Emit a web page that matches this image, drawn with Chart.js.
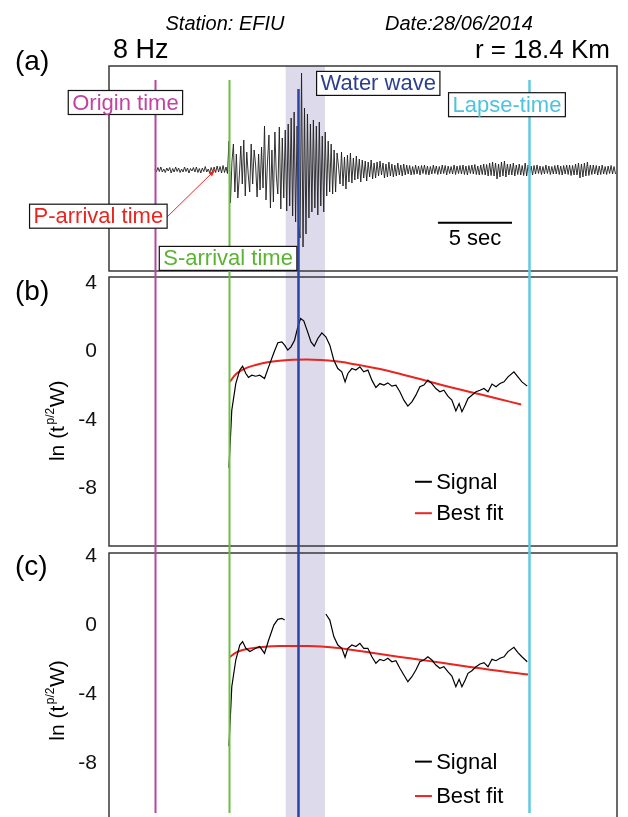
<!DOCTYPE html>
<html><head><meta charset="utf-8">
<script src="https://cdn.jsdelivr.net/npm/chart.js@4"></script>
<style>html,body{margin:0;padding:0;background:#fff;}#wrap{width:628px;height:817px;position:relative;}</style>
</head><body><div id="wrap"><canvas id="c" width="628" height="817"></canvas></div>
<script>
// ---------------- DATA ----------------
const stationText = 'Station: EFIU';
const dateText = 'Date:28/06/2014';
const freqText = '8 Hz';
const distText = 'r = 18.4 Km';
const panelLetters = ['(a)', '(b)', '(c)'];
const yTicks = [4, 0, -4, -8];
const scaleBarSeconds = 5;

// event times (s after origin time)
const eventNames = ['Origin time', 'P-arrival time', 'S-arrival time', 'Water wave', 'Lapse-time'];
const eventTimes = [0, 4.06, 5.02, 9.66, 25.26];
const waterBand = [8.83, 11.48];

// panel (a): seismogram, sampled every 0.1 s from origin time
const waveStart = 0;
const waveStep = 0.1;
const waveform = [
 0.1,-0.2,0.25,-0.15,0.3,-0.2,0.1,-0.25,0.2,-0.1,
 0.25,-0.3,0.15,-0.2,0.3,-0.15,0.2,-0.25,0.1,-0.2,
 0.3,-0.15,0.2,-0.3,0.15,-0.1,0.25,-0.2,0.3,-0.25,
 0.15,-0.3,0.2,-0.15,0.35,-0.2,0.1,-0.3,0.25,-0.2,
 0.3,-0.25,0.4,-0.2,0.35,-0.3,0.45,-0.25,0.3,-0.35,
 2.9,-3.3,0.8,2.6,-2.2,1.6,-2.8,-0.6,2.4,-1.4,
 3.0,-2.6,1.8,-0.4,-2.2,2.6,-1.4,2.0,0.5,-2.7,
 1.6,-2.0,2.3,-1.8,4.4,-3.0,0.8,3.5,-3.8,2.0,
 -3.2,3.8,-0.6,-2.4,4.3,-3.9,3.2,-2.8,4.0,-4.1,
 4.6,-3.6,5.2,-4.6,5.8,-5.2,4.4,-5.6,-6.8,9.7,
 -7.7,6.2,-6.4,5.6,-4.8,4.6,-4.2,5.0,-3.8,4.4,
 -4.5,4.8,-3.6,3.4,-4.2,3.8,-2.6,2.9,-2.2,2.6,
 -2.4,2.0,-2.2,1.7,0.3,-1.4,1.8,-1.6,1.3,-1.9,
 1.5,-1.2,1.7,-1.3,1.2,-1.0,1.4,-0.9,1.1,-1.2,
 1.0,-0.8,0.9,-1.1,0.8,-0.7,1.0,-0.9,0.7,-0.8,
 0.8,-0.6,0.9,-0.5,0.7,-0.8,0.6,-0.7,0.8,-0.6,
 0.6,-0.7,0.5,-0.6,0.7,-0.5,0.5,-0.6,0.6,-0.5,
 0.5,-0.4,0.45,-0.5,0.35,-0.45,0.5,-0.4,0.4,-0.5,
 0.45,-0.35,0.5,-0.45,0.4,-0.5,0.35,-0.4,0.5,-0.35,
 0.4,-0.45,0.35,-0.4,0.5,-0.35,0.45,-0.5,0.4,-0.35,
 0.35,-0.4,0.5,-0.45,0.4,-0.35,0.45,-0.4,0.5,-0.45,
 0.4,-0.5,0.45,-0.35,0.5,-0.4,0.55,-0.45,0.4,-0.5,
 0.5,-0.45,0.6,-0.5,0.55,-0.6,0.7,-0.55,0.8,-0.6,
 0.7,-0.9,0.6,-0.7,0.8,-0.6,0.9,-0.7,0.6,-0.5,
 0.6,-0.5,0.7,-0.6,0.5,-0.45,0.6,-0.5,0.45,-0.55,
 0.7,-0.6,0.5,-0.45,0.4,-0.5,0.45,-0.4,0.5,-0.35,
 0.4,-0.45,0.35,-0.4,0.5,-0.35,0.4,-0.45,0.35,-0.4,
 0.45,-0.4,0.5,-0.45,0.4,-0.5,0.45,-0.4,0.5,-0.45,
 0.5,-0.55,0.45,-0.5,0.6,-0.5,0.7,-0.8,0.6,-0.7,
 0.7,-0.6,0.8,-0.55,0.5,-0.45,0.5,-0.4,0.45,-0.5,
 0.4,-0.45,0.5,-0.4,0.35,-0.45,0.4,-0.35,0.45,-0.4,
 0.35,-0.4
];

// panel (b): [time s, ln(t^{p/2} W)]
const signalB = [[5.0,-6.8],[5.19,-3.43],[5.46,-1.87],[5.73,-1.08],[5.92,-0.85],[6.14,-1.28],[6.32,-1.51],[6.54,-1.38],[6.81,-1.44],[7.08,-1.38],[7.4,-1.57],[7.68,-0.89],[8.03,-0.07],[8.3,0.52],[8.57,0.57],[8.76,0.38],[8.97,0.09],[9.19,0.28],[9.43,0.67],[9.65,1.45],[9.84,1.94],[10.05,1.8],[10.27,1.26],[10.54,0.57],[10.76,0.32],[11.0,0.77],[11.27,1.1],[11.54,0.87],[11.81,0.38],[12.08,-0.5],[12.35,-0.99],[12.62,-1.18],[12.84,-1.77],[13.03,-1.28],[13.3,-0.99],[13.57,-1.08],[13.84,-0.89],[14.1,-1.18],[14.38,-1.08],[14.65,-1.67],[14.92,-2.1],[15.19,-1.87],[15.46,-1.96],[15.73,-1.83],[16.0,-2.02],[16.27,-1.96],[16.54,-2.35],[16.81,-2.84],[17.08,-3.19],[17.35,-2.94],[17.62,-2.55],[17.89,-2.06],[18.16,-1.96],[18.43,-1.67],[18.7,-1.87],[18.97,-2.16],[19.24,-2.35],[19.51,-2.26],[19.78,-2.61],[20.05,-2.84],[20.32,-3.47],[20.54,-3.04],[20.73,-3.52],[20.95,-3.13],[21.14,-2.74],[21.4,-2.55],[21.68,-2.35],[21.95,-2.26],[22.22,-2.16],[22.49,-2.35],[22.76,-1.9],[23.03,-2.06],[23.3,-1.87],[23.57,-1.77],[23.84,-1.48],[24.24,-1.18],[24.51,-1.48],[24.78,-1.77],[25.14,-2.02]];
const fitB = [[5.05,-1.77],[5.5,-1.3],[6.0,-1.02],[6.8,-0.78],[7.6,-0.62],[8.4,-0.53],[9.3,-0.48],[10.3,-0.46],[11.2,-0.49],[12.2,-0.56],[13.0,-0.66],[13.84,-0.79],[15.2,-1.02],[16.54,-1.3],[17.9,-1.6],[19.24,-1.92],[20.6,-2.22],[21.95,-2.5],[23.3,-2.79],[24.73,-3.09]];

// panel (c): water-wave window removed
const signalC = [[5.0,-7.0],[5.19,-3.55],[5.46,-2.0],[5.73,-1.13],[5.92,-0.93],[6.14,-1.32],[6.41,-1.51],[6.81,-1.32],[7.08,-1.22],[7.4,-1.61],[7.68,-0.84],[8.03,0.03],[8.3,0.36],[8.57,0.42],[8.76,0.32],[10.0,null],[11.54,0.67],[11.81,0.32],[12.08,-0.64],[12.35,-1.13],[12.62,-1.32],[12.84,-1.84],[13.03,-1.32],[13.3,-1.13],[13.57,-1.22],[13.84,-1.03],[14.1,-1.32],[14.38,-1.32],[14.65,-1.81],[14.92,-2.19],[15.19,-1.96],[15.46,-2.04],[15.73,-1.9],[16.0,-2.1],[16.27,-2.04],[16.54,-2.48],[16.81,-2.87],[17.08,-3.26],[17.35,-2.97],[17.62,-2.58],[17.89,-2.1],[18.16,-2.0],[18.43,-1.81],[18.7,-2.0],[18.97,-2.29],[19.24,-2.48],[19.51,-2.39],[19.78,-2.68],[20.05,-2.93],[20.32,-3.55],[20.54,-3.12],[20.73,-3.55],[20.95,-3.16],[21.14,-2.77],[21.4,-2.62],[21.68,-2.39],[21.95,-2.23],[22.22,-2.15],[22.49,-2.39],[22.76,-1.96],[23.03,-2.04],[23.3,-1.9],[23.57,-1.81],[23.84,-1.51],[24.24,-1.26],[24.51,-1.57],[24.78,-1.81],[25.14,-2.1]];
const fitC = [[5.05,-1.84],[5.5,-1.55],[6.0,-1.4],[6.8,-1.28],[7.6,-1.22],[8.4,-1.19],[9.3,-1.18],[10.3,-1.19],[11.2,-1.22],[12.2,-1.29],[13.0,-1.37],[13.84,-1.48],[15.2,-1.65],[16.54,-1.82],[17.9,-1.98],[19.24,-2.15],[20.6,-2.32],[21.95,-2.48],[23.3,-2.64],[24.5,-2.77],[25.2,-2.84]];

const legendLabels = ['Signal', 'Best fit'];

// ---------------- STYLE ----------------
const FONT = '"Liberation Sans", Arial, Helvetica, sans-serif';
const eventColors = ['#b9479f', '#e8251f', '#6cbd45', '#2b44a6', '#62c9e2'];
const eventTextColors = ['#c2449f', '#e8251f', '#5ab432', '#2c3e94', '#4ec3dd'];
const eventLineWidth = [2, 0, 2, 2.5, 2.5];
const labelAnchors = [[-1.99, 6.75], [-3.82, -4.62], [4.94, -8.84], [15.08, 8.66], [23.77, 6.53]];

const toXY = arr => arr.map(p => ({x: p[0], y: p[1]}));

const deco = {
  id: 'deco',
  beforeDatasetsDraw(chart) {
    const {ctx, scales: {x, ya}} = chart;
    const x0 = x.getPixelForValue(waterBand[0]), x1 = x.getPixelForValue(waterBand[1]);
    ctx.save();
    ctx.fillStyle = '#dcdaeb';
    ctx.fillRect(x0, ya.top, x1 - x0, chart.height - ya.top);
    ctx.restore();
  },
  afterDatasetsDraw(chart) {
    const {ctx, scales: {x, ya, yb, yc}} = chart;
    ctx.save();
    ctx.strokeStyle = '#383838';
    ctx.lineWidth = 1.5;
    const L = chart.chartArea.left, R = chart.chartArea.right;
    ctx.strokeRect(L, ya.top, R - L, ya.bottom - 3 - ya.top);
    ctx.strokeRect(L, yb.top + 3, R - L, yb.bottom - 3.5 - yb.top - 3);
    ctx.strokeRect(L, yc.top + 3.5, R - L, yc.bottom + 4 - yc.top - 3.5);
    [0, 2, 3, 4].forEach(i => {
      const px = Math.round(x.getPixelForValue(eventTimes[i])) + 0.5;
      const top = ya.getPixelForValue(i === 3 ? 8.1 : 9.0);
      const bottom = i === 3 ? chart.height : yc.bottom - 4;
      ctx.strokeStyle = eventColors[i];
      ctx.lineWidth = eventLineWidth[i];
      ctx.beginPath(); ctx.moveTo(px, top); ctx.lineTo(px, bottom); ctx.stroke();
    });
    ctx.restore();
  },
  afterDraw(chart) {
    const {ctx, scales: {x, ya, yb, yc}} = chart;
    ctx.save();
    ctx.fillStyle = '#000';
    ctx.font = 'italic 20px ' + FONT;
    ctx.textAlign = 'center'; ctx.textBaseline = 'alphabetic';
    ctx.fillText(stationText, 225, 30);
    ctx.fillText(dateText, 459, 30);
    ctx.font = '27px ' + FONT;
    ctx.textAlign = 'left';
    ctx.fillText(freqText, 113, 58);
    ctx.font = '26px ' + FONT;
    ctx.textAlign = 'right';
    ctx.fillText(distText, 610, 58);
    ctx.font = '28px ' + FONT;
    ctx.textAlign = 'left';
    ctx.fillText(panelLetters[0], 15, 70);
    ctx.fillText(panelLetters[1], 15, 300);
    ctx.fillText(panelLetters[2], 15, 575);

    // P-arrival arrow
    const tipX = x.getPixelForValue(eventTimes[1]), tipY = ya.getPixelForValue(0);
    const sx = x.getPixelForValue(0.82), sy = ya.getPixelForValue(-4.7);
    ctx.strokeStyle = eventColors[1]; ctx.fillStyle = eventColors[1]; ctx.lineWidth = 1;
    ctx.beginPath(); ctx.moveTo(sx, sy); ctx.lineTo(tipX, tipY); ctx.stroke();
    const ang = Math.atan2(tipY - sy, tipX - sx);
    ctx.beginPath();
    ctx.moveTo(tipX, tipY);
    ctx.lineTo(tipX - 7 * Math.cos(ang - 0.35), tipY - 7 * Math.sin(ang - 0.35));
    ctx.lineTo(tipX - 7 * Math.cos(ang + 0.35), tipY - 7 * Math.sin(ang + 0.35));
    ctx.closePath(); ctx.fill();

    ctx.font = '22px ' + FONT;
    ctx.textAlign = 'center'; ctx.textBaseline = 'middle';
    eventNames.forEach((name, i) => {
      const cx = x.getPixelForValue(labelAnchors[i][0]);
      const cy = ya.getPixelForValue(labelAnchors[i][1]);
      const w = ctx.measureText(name).width + 8, h = 24;
      ctx.fillStyle = '#fff';
      ctx.fillRect(cx - w / 2, cy - h / 2, w, h);
      ctx.strokeStyle = '#111'; ctx.lineWidth = 1.2;
      ctx.strokeRect(cx - w / 2, cy - h / 2, w, h);
      ctx.fillStyle = eventTextColors[i];
      ctx.fillText(name, cx, cy + 1);
    });

    const b0 = x.getPixelForValue(19.11), b1 = x.getPixelForValue(19.11 + scaleBarSeconds);
    const by = ya.getPixelForValue(-5.27);
    ctx.strokeStyle = '#000'; ctx.lineWidth = 2;
    ctx.beginPath(); ctx.moveTo(b0, by); ctx.lineTo(b1, by); ctx.stroke();
    ctx.fillStyle = '#000';
    ctx.fillText(scaleBarSeconds + ' sec', (b0 + b1) / 2, ya.getPixelForValue(-6.85));

    const drawTitle = (cx, cy) => {
      ctx.save();
      ctx.translate(cx, cy); ctx.rotate(-Math.PI / 2);
      const f1 = '21px ' + FONT, f2 = '12px ' + FONT;
      ctx.font = f1; const w1 = ctx.measureText('ln (t').width, w3 = ctx.measureText('W)').width;
      ctx.font = f2; const w2 = ctx.measureText('p/2').width;
      let px = -(w1 + w2 + w3 + 2) / 2;
      ctx.textAlign = 'left'; ctx.textBaseline = 'alphabetic'; ctx.fillStyle = '#000';
      ctx.font = f1; ctx.fillText('ln (t', px, 7); px += w1 + 1.5;
      ctx.font = f2; ctx.fillText('p/2', px, -3); px += w2 + 0.5;
      ctx.font = f1; ctx.fillText('W)', px, 7);
      ctx.restore();
    };
    drawTitle(57, yb.getPixelForValue(-4.05));
    drawTitle(57, yc.getPixelForValue(-4.35));

    const drawLegend = (scale, ySig, yFit) => {
      const lx0 = x.getPixelForValue(17.56), lx1 = x.getPixelForValue(18.7), tx = x.getPixelForValue(18.99);
      [[ySig, '#000', legendLabels[0]], [yFit, '#e8251f', legendLabels[1]]].forEach(([v, col, txt]) => {
        const py = scale.getPixelForValue(v);
        ctx.strokeStyle = col; ctx.lineWidth = 2;
        ctx.beginPath(); ctx.moveTo(lx0, py); ctx.lineTo(lx1, py); ctx.stroke();
        ctx.fillStyle = '#000'; ctx.font = '22px ' + FONT;
        ctx.textAlign = 'left'; ctx.textBaseline = 'middle';
        ctx.fillText(txt, tx, py + 1);
      });
    };
    drawLegend(yb, -7.62, -9.46);
    drawLegend(yc, -7.9, -9.9);
    ctx.restore();
  }
};

const yCommon = (extra) => Object.assign({
  type: 'linear', position: 'left', stack: 'panels',
  grid: {display: false, drawTicks: false}, border: {display: false},
  ticks: {font: {size: 21, family: FONT}, color: '#111', padding: 12},
  afterFit: s => { s.width = 109; s.paddingTop = 0; s.paddingBottom = 0; s.paddingLeft = 0; s.paddingRight = 0; }
}, extra);

new Chart(document.getElementById('c'), {
  type: 'line',
  data: {
    datasets: [
      {data: waveform.map((v, i) => ({x: waveStart + i * waveStep, y: v})), yAxisID: 'ya', borderColor: '#1e1e1e', borderWidth: 0.9, pointRadius: 0, tension: 0},
      {label: legendLabels[0], data: toXY(signalB), yAxisID: 'yb', borderColor: '#000', borderWidth: 1.2, pointRadius: 0, tension: 0},
      {label: legendLabels[1], data: toXY(fitB), yAxisID: 'yb', borderColor: '#e8251f', borderWidth: 2, pointRadius: 0, tension: 0.4},
      {label: legendLabels[0], data: toXY(signalC), yAxisID: 'yc', borderColor: '#000', borderWidth: 1.2, pointRadius: 0, tension: 0, spanGaps: false},
      {label: legendLabels[1], data: toXY(fitC), yAxisID: 'yc', borderColor: '#e8251f', borderWidth: 2, pointRadius: 0, tension: 0.4}
    ]
  },
  options: {
    responsive: false, animation: false,
    layout: {padding: {left: 0, right: 11, top: 66, bottom: 0}},
    plugins: {legend: {display: false}, tooltip: {enabled: false}},
    scales: {
      x: {type: 'linear', min: -3.1, max: 31.2, display: false},
      ya: yCommon({weight: 3, stackWeight: 208, min: -10.4, max: 10.4, ticks: {display: false}}),
      yb: yCommon({weight: 2, stackWeight: 275.5, min: -11.585, max: 4.545, afterBuildTicks: s => { s.ticks = yTicks.map(v => ({value: v})); }}),
      yc: yCommon({weight: 1, stackWeight: 267.5, min: -11.116, max: 4.418, afterBuildTicks: s => { s.ticks = yTicks.map(v => ({value: v})); }})
    }
  },
  plugins: [deco]
});
</script></body></html>
